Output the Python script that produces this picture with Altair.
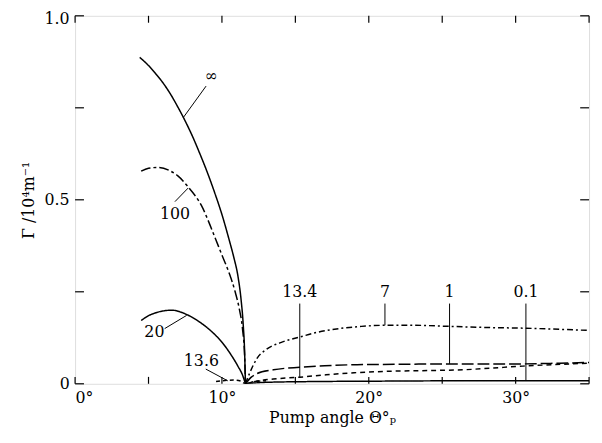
import altair as alt
import pandas as pd

# ---- curve data (pump angle in degrees, gain in 10^4 m^-1) ----
inf_theta = [4.4, 5.0, 5.5, 6.0, 6.5, 7.0, 7.5, 8.0, 8.5, 9.0, 9.5, 10.0, 10.5, 10.8, 11.1, 11.3, 11.45, 11.55, 11.6]
inf_gamma = [0.887, 0.865, 0.842, 0.817, 0.787, 0.752, 0.714, 0.672, 0.625, 0.575, 0.52, 0.46, 0.39, 0.345, 0.29, 0.23, 0.16, 0.08, 0.0]

h100_theta = [4.5, 5.0, 5.7, 6.5, 7.0, 7.7, 8.2, 8.6, 9.1, 9.5, 10.0, 10.5, 10.9, 11.2, 11.4, 11.55, 11.6]
h100_gamma = [0.578, 0.586, 0.588, 0.578, 0.565, 0.535, 0.51, 0.485, 0.44, 0.40, 0.35, 0.30, 0.25, 0.20, 0.15, 0.07, 0.0]

h20_theta = [4.5, 5.0, 5.5, 6.0, 6.6, 7.5, 8.4, 9.3, 10.0, 10.6, 11.1, 11.4, 11.6]
h20_gamma = [0.172, 0.185, 0.193, 0.198, 0.200, 0.190, 0.170, 0.142, 0.113, 0.080, 0.047, 0.024, 0.0]

h136_theta = [9.6, 10.2, 10.8, 11.3, 11.6, 12.2, 13.0]
h136_gamma = [0.006, 0.009, 0.010, 0.007, 0.0, 0.006, 0.008]

h7_theta = [11.6, 11.9, 12.4, 13.0, 14.0, 15.3, 16.5, 18.0, 19.5, 21.2, 23.0, 25.5, 28.0, 30.7, 33.0, 35.0]
h7_gamma = [0.0, 0.03, 0.07, 0.093, 0.112, 0.127, 0.14, 0.15, 0.156, 0.159, 0.159, 0.156, 0.153, 0.151, 0.148, 0.145]

h1_theta = [11.6, 12.0, 12.4, 13.5, 15.3, 17.0, 19.2, 22.0, 25.5, 30.0, 33.0, 35.0]
h1_gamma = [0.0, 0.018, 0.028, 0.038, 0.045, 0.049, 0.052, 0.053, 0.054, 0.054, 0.056, 0.058]

h134_theta = [11.6, 12.5, 13.5, 15.3, 17.0, 19.0, 21.4, 24.0, 26.4, 28.5, 30.5, 32.5, 35.0]
h134_gamma = [0.0, 0.008, 0.013, 0.018, 0.024, 0.030, 0.034, 0.036, 0.038, 0.043, 0.048, 0.052, 0.056]

h01_theta = [11.6, 13.0, 16.0, 20.0, 25.0, 30.0, 35.0]
h01_gamma = [0.0, 0.004, 0.006, 0.007, 0.008, 0.008, 0.008]

series_names = ["inf", "100", "20", "13.6", "7", "1", "13.4", "0.1"]
series_theta = [inf_theta, h100_theta, h20_theta, h136_theta, h7_theta, h1_theta, h134_theta, h01_theta]
series_gamma = [inf_gamma, h100_gamma, h20_gamma, h136_gamma, h7_gamma, h1_gamma, h134_gamma, h01_gamma]
series_dash = [[1, 0], [10, 3, 3, 3], [1, 0], [4, 3], [6, 3, 2, 3], [12, 4], [5, 4], [1, 0]]

# ---- curve labels and leader lines ----
label_text = ["∞", "100", "20", "13.6", "13.4", "7", "1", "0.1"]
label_theta = [9.3, 6.8, 5.4, 8.6, 15.3, 21.1, 25.5, 30.7]
label_gamma = [0.835, 0.462, 0.140, 0.063, 0.248, 0.248, 0.248, 0.248]

leader_x1 = [8.92, 6.8, 6.1, 8.9, 15.3, 21.1, 25.5, 30.7]
leader_y1 = [0.809, 0.495, 0.150, 0.040, 0.218, 0.218, 0.218, 0.218]
leader_x2 = [7.36, 7.7, 7.6, 10.4, 15.3, 21.1, 25.5, 30.7]
leader_y2 = [0.723, 0.532, 0.186, 0.008, 0.016, 0.159, 0.054, 0.008]

x_ticks = [0, 5, 10, 15, 20, 25, 30, 35]
y_ticks = [0, 0.25, 0.5, 0.75, 1.0]

rows = []
for name, th, gm in zip(series_names, series_theta, series_gamma):
    for i, (t, g) in enumerate(zip(th, gm)):
        rows.append({"series": name, "theta": t, "gamma": g, "idx": i})
df = pd.DataFrame(rows)

FONT = "DejaVu Serif"
FS = 16
xs = alt.Scale(domain=[0, 35], nice=False, zero=False)
ys = alt.Scale(domain=[0, 1.0], nice=False)

lines = alt.Chart(df).mark_line(color="black", strokeWidth=1.5, clip=True,
                                interpolate="monotone").encode(
    x=alt.X("theta:Q", scale=xs,
            axis=alt.Axis(values=[0, 10, 20, 30], labelExpr="datum.value + '°'",
                          ticks=False, domain=False, grid=False, labelFont=FONT,
                          labelFontSize=FS, labelColor="black", labelPadding=6,
                          title="Pump angle Θ°ₚ", titleFont=FONT, titleFontSize=FS,
                          titleFontWeight="normal", titleColor="black", titlePadding=4)),
    y=alt.Y("gamma:Q", scale=ys,
            axis=alt.Axis(values=[0, 0.5, 1.0],
                          labelExpr="datum.value == 0 ? '0' : format(datum.value, '.1f')",
                          labelOffset={"condition": {"test": "datum.value == 1", "value": 3}, "value": 0},
                          ticks=False, domain=False, grid=False, labelFont=FONT,
                          labelFontSize=FS, labelColor="black", labelPadding=6,
                          title="Γ /10⁴m⁻¹", titleFont=FONT, titleFontSize=FS,
                          titleFontWeight="normal", titleColor="black", titlePadding=8)),
    detail="series:N",
    order="idx:Q",
    strokeDash=alt.StrokeDash("series:N", scale=alt.Scale(domain=series_names, range=series_dash),
                              legend=None),
)

lab_df = pd.DataFrame({"text": label_text, "theta": label_theta, "gamma": label_gamma})
labels = alt.Chart(lab_df).mark_text(font=FONT, fontSize=FS, color="black").encode(
    x=alt.X("theta:Q", scale=xs), y=alt.Y("gamma:Q", scale=ys), text="text:N")

lead_df = pd.DataFrame({"x1": leader_x1, "y1": leader_y1, "x2": leader_x2, "y2": leader_y2})
leaders = alt.Chart(lead_df).mark_rule(color="black", strokeWidth=1).encode(
    x=alt.X("x1:Q", scale=xs), y=alt.Y("y1:Q", scale=ys), x2="x2:Q", y2="y2:Q")

# inward ticks on all four sides
xt_df = pd.DataFrame({"t": x_ticks})
xt_bottom = alt.Chart(xt_df).mark_rule(color="black", strokeWidth=1.2).encode(
    x=alt.X("t:Q", scale=xs), y=alt.value(373), y2=alt.value(366))
xt_top = alt.Chart(xt_df).mark_rule(color="black", strokeWidth=1.2).encode(
    x=alt.X("t:Q", scale=xs), y=alt.value(0), y2=alt.value(7))
yt_df = pd.DataFrame({"t": y_ticks})
yt_left = alt.Chart(yt_df).mark_rule(color="black", strokeWidth=1.2).encode(
    y=alt.Y("t:Q", scale=ys), x=alt.value(0), x2=alt.value(9))
yt_right = alt.Chart(yt_df).mark_rule(color="black", strokeWidth=1.2).encode(
    y=alt.Y("t:Q", scale=ys), x=alt.value(521), x2=alt.value(512))

chart = alt.layer(lines, leaders, labels, xt_bottom, xt_top, yt_left, yt_right).properties(
    width=521, height=373,
    padding={"left": 68, "top": 5, "right": 5, "bottom": 50},
    autosize="none",
).configure_view(stroke="black", strokeWidth=1.5).configure(background="white")

chart.save("out.html", embed_options={"renderer": "svg", "actions": False})
